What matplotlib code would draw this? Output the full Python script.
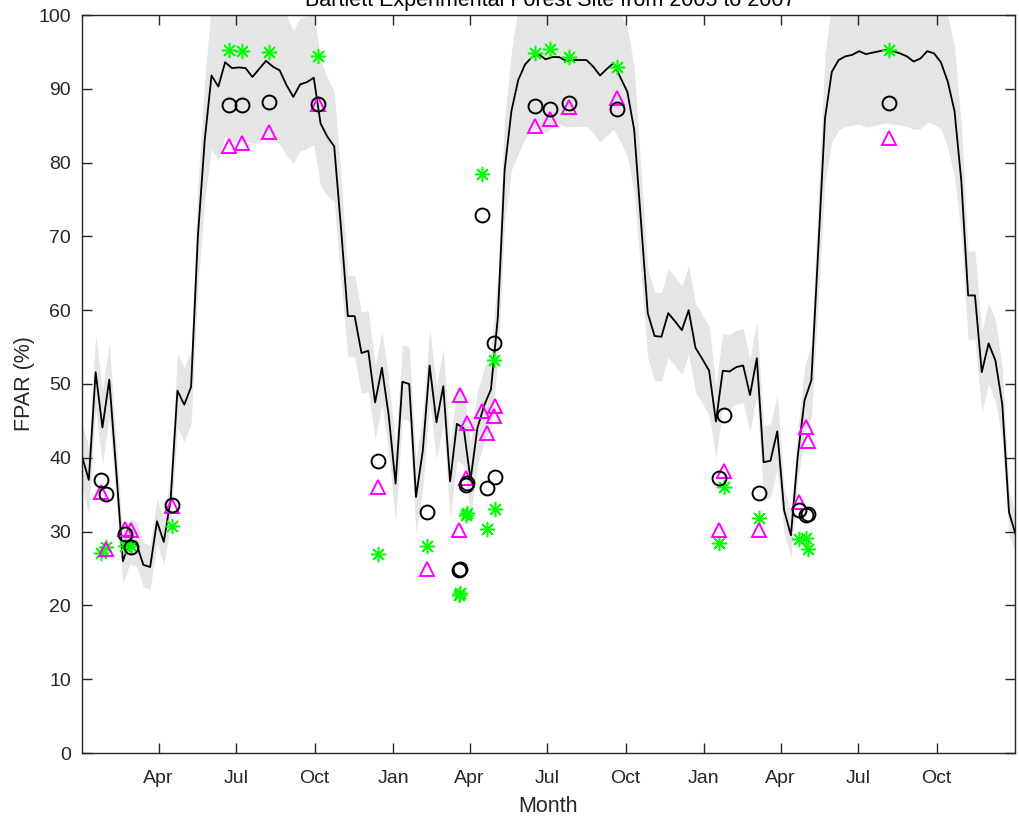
import pandas as pd
import matplotlib
matplotlib.use("Agg")
import matplotlib.pyplot as plt

plt.rcParams['font.family'] = ['Liberation Sans', 'DejaVu Sans']

# 8-day composite FPAR (%) and its spread, Jan 2005 - Dec 2007
composite_dates = pd.date_range('2005-01-01', periods=138, freq='8D')
fpar_mean = [
    40.2, 37.0, 51.6, 44.1, 50.6, 38.5, 26.0, 28.6, 28.3, 25.5,
    25.2, 31.4, 28.6, 34.3, 49.1, 47.2, 49.6, 70.0, 83.0, 91.8,
    90.3, 93.6, 92.8, 92.9, 92.8, 91.6, 92.7, 93.8, 93.0, 92.5,
    90.5, 88.9, 90.6, 90.9, 91.5, 85.3, 83.5, 82.2, 71.1, 59.2,
    59.2, 54.2, 54.5, 47.5, 52.2, 45.7, 36.5, 50.3, 50.0, 34.7,
    41.0, 52.5, 44.8, 49.7, 36.8, 44.6, 44.0, 37.0, 44.0, 47.1,
    49.3, 59.0, 79.0, 87.0, 91.2, 93.3, 94.3, 94.7, 94.0, 94.3,
    94.3, 93.8, 93.9, 93.9, 93.9, 93.0, 91.8, 92.7, 93.5, 91.5,
    89.6, 84.5, 72.0, 59.6, 56.5, 56.4, 59.6, 58.5, 57.3, 60.0,
    54.9, 53.4, 51.8, 44.9, 51.8, 51.7, 52.3, 52.5, 48.5, 53.5,
    39.4, 39.6, 43.6, 32.9, 29.5, 40.2, 47.8, 50.5, 68.0, 86.0,
    92.3, 93.9, 94.4, 94.6, 95.1, 94.7, 94.9, 95.1, 95.3, 95.1,
    94.8, 94.4, 93.7, 94.1, 95.1, 94.8, 93.6, 91.0, 87.0, 77.5,
    62.0, 62.0, 51.6, 55.5, 53.2, 47.3, 32.6, 29.5,
]
fpar_spread = [
    4.5, 4.5, 5.0, 5.0, 5.0, 4.0, 3.0, 3.0, 3.0, 3.0,
    3.0, 3.0, 3.0, 3.5, 5.0, 5.0, 5.0, 7.0, 8.0, 10.0,
    10.0, 10.0, 10.0, 10.0, 10.0, 9.0, 10.0, 10.0, 10.0, 10.0,
    9.5, 9.0, 9.0, 9.0, 9.0, 8.5, 8.0, 7.5, 7.0, 5.5,
    5.5, 5.5, 5.5, 5.0, 5.0, 5.0, 5.0, 5.0, 5.0, 5.0,
    5.0, 5.0, 5.0, 5.0, 5.0, 5.0, 5.0, 5.0, 5.0, 5.0,
    5.0, 6.0, 7.0, 8.0, 10.0, 10.0, 10.0, 10.0, 10.0, 9.5,
    9.0, 9.0, 9.0, 9.0, 9.0, 9.0, 9.0, 9.0, 9.0, 8.7,
    8.7, 8.5, 7.0, 6.0, 6.0, 6.0, 6.0, 6.0, 6.0, 6.0,
    6.0, 6.0, 6.0, 5.0, 5.0, 5.0, 5.0, 5.0, 5.0, 5.0,
    5.0, 5.0, 5.0, 3.0, 3.0, 3.5, 4.5, 5.0, 7.0, 8.5,
    9.5, 9.5, 9.5, 9.5, 9.9, 9.9, 9.9, 9.9, 9.9, 9.9,
    9.7, 9.5, 9.2, 9.5, 9.6, 9.6, 9.0, 9.0, 8.8, 7.5,
    6.0, 6.0, 5.5, 5.5, 5.5, 5.0, 3.0, 2.5,
]

# field observations
obs_dates = pd.to_datetime([
    '2005-01-23', '2005-01-29', '2005-02-20', '2005-02-28', '2005-04-17',
    '2005-06-22', '2005-07-08', '2005-08-09', '2005-10-05', '2005-12-14',
    '2006-02-10', '2006-03-19', '2006-03-21', '2006-03-28', '2006-03-29',
    '2006-04-15', '2006-04-21', '2006-04-29', '2006-05-01', '2006-06-17',
    '2006-07-04', '2006-07-27', '2006-09-21',
    '2007-01-19', '2007-01-25', '2007-03-07', '2007-04-23', '2007-05-01',
    '2007-05-03', '2007-08-06',
])
obs_circle = [
    37.0, 35.1, 29.7, 27.9, 33.6, 87.8, 87.8, 88.2, 88.0, 39.6,
    32.7, 24.8, 24.9, 36.3, 36.6, 72.9, 35.9, 55.5, 37.4, 87.7,
    87.3, 88.1, 87.2,
    37.3, 45.8, 35.2, 32.9, 32.2, 32.4, 88.1,
]
obs_triangle = [
    35.4, 27.7, 30.3, 30.2, 33.5, 82.2, 82.6, 84.2, 87.9, 36.0,
    24.9, 30.2, 48.5, 37.2, 44.7, 46.4, 43.3, 45.6, 47.0, 84.9,
    85.9, 87.6, 88.7,
    30.2, 38.2, 30.2, 34.0, 44.2, 42.3, 83.4,
]
obs_star = [
    27.1, 27.9, 28.0, 28.0, 30.8, 95.3, 95.1, 95.0, 94.5, 26.9,
    28.0, 21.4, 21.7, 32.2, 32.5, 78.5, 30.4, 53.3, 33.0, 94.8,
    95.4, 94.3, 93.0,
    28.5, 36.0, 31.8, 29.0, 29.1, 27.6, 95.2,
]

tick_dates = pd.to_datetime([
    '2005-04-01', '2005-07-01', '2005-10-01', '2006-01-01', '2006-04-01',
    '2006-07-01', '2006-10-01', '2007-01-01', '2007-04-01', '2007-07-01',
    '2007-10-01',
])
tick_labels = ['Apr', 'Jul', 'Oct', 'Jan', 'Apr', 'Jul', 'Oct', 'Jan', 'Apr', 'Jul', 'Oct']

fig = plt.figure(figsize=(10.19, 8.17), dpi=100)
ax = fig.add_axes([82 / 1019, 64 / 817, 933 / 1019, 738 / 817])

lower = [m - s for m, s in zip(fpar_mean, fpar_spread)]
upper = [m + s for m, s in zip(fpar_mean, fpar_spread)]
ax.fill_between(composite_dates, lower, upper, color='#e5e5e5', lw=0, zorder=1)
ax.plot(composite_dates, fpar_mean, color='black', lw=1.3, zorder=2)

ax.plot(obs_dates, obs_star, ls='none', marker=(8, 2, 0), ms=11,
        mec='#00ff00', mew=1.1, zorder=3)
ax.plot(obs_dates, obs_triangle, ls='none', marker='^', ms=10.5,
        mfc='none', mec='#ff00ff', mew=1.4, zorder=4)
ax.plot(obs_dates, obs_circle, ls='none', marker='o', ms=10,
        mfc='none', mec='black', mew=1.4, zorder=5)

ax.set_xlim(pd.Timestamp('2005-01-01'), pd.Timestamp('2008-01-01'))
ax.set_ylim(0, 100)
ax.set_yticks(range(0, 101, 10))
ax.set_xticks(tick_dates)
ax.set_xticklabels(tick_labels)

dark = '#262626'
for sp in ax.spines.values():
    sp.set_color(dark)
    sp.set_linewidth(1.0)
ax.tick_params(direction='in', length=7, width=1.0, color=dark, labelcolor=dark,
               labelsize=14, top=True, right=True)
ax.tick_params(axis='y', pad=8)
ax.tick_params(axis='x', pad=12)

ax.set_xlabel('Month', fontsize=15.5, color=dark, labelpad=7)
ax.set_ylabel('FPAR (%)', fontsize=15.5, color=dark, labelpad=2)

# title sits partly above the figure edge, as in the original export
fig.text(0.54, 1 - 6 / 817, 'Bartlett Experimental Forest Site from 2005 to 2007',
         ha='center', va='baseline', fontsize=15.5, color='black')

fig.savefig('out.png', dpi=100)
